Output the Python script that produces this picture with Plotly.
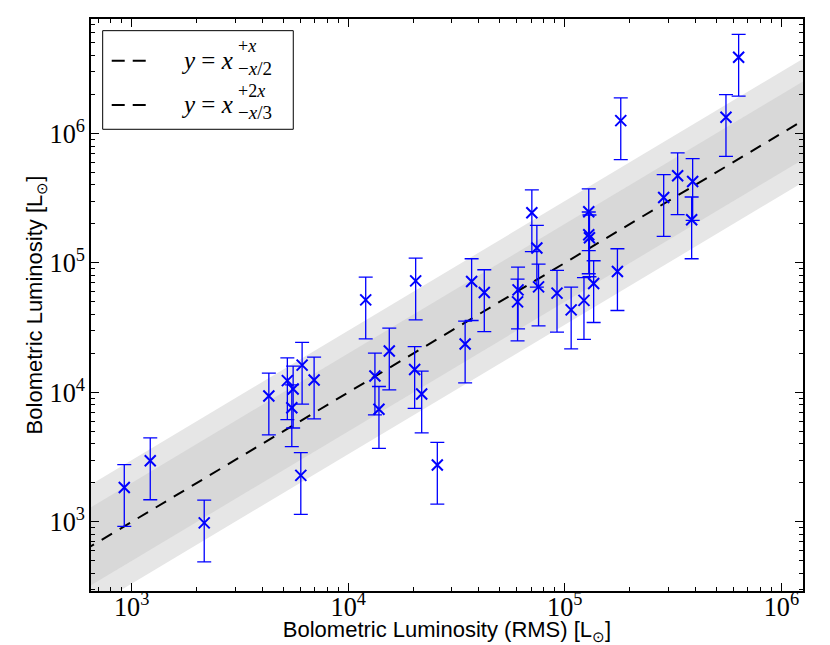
import plotly.graph_objects as go

# RMS bolometric luminosity (x) vs bolometric luminosity (y), in L_sun
lum_rms = [924, 1218, 2162, 4298, 5233, 5565, 5487, 6122, 6955, 6038,
           12040, 13280, 13860, 15470, 20260, 20480, 21830, 25780, 34650, 37130,
           42480, 60830, 60510, 70440, 74300, 75650, 92050, 107000, 122600, 129000,
           129000, 130000, 135900, 175000, 181300, 286200, 332000, 389400, 385300, 555000,
           635000]
lum_bol = [1845, 2964, 982, 9380, 12320, 10620, 7620, 16230, 12470, 2285,
           51840, 13390, 7400, 20900, 15040, 72700, 9720, 2745, 23670, 71800,
           59030, 61940, 50030, 244100, 130200, 65350, 58400, 43380, 51380, 248500,
           164900, 156400, 69300, 85800, 1256000, 320500, 471700, 426100, 215400, 1332000,
           3879000]

# x values for the one-to-one line and the shaded bands
line_x = [600, 1400000]

SERIF = "Liberation Serif"
SANS = "Liberation Sans"
BLUE = "#0000ff"

fig = go.Figure()

# shaded bands: x/3 .. 3x (light) and x/2 .. 2x (darker)
fig.add_trace(go.Scatter(x=line_x, y=[v / 3 for v in line_x], mode="lines",
                         line=dict(width=0), showlegend=False, hoverinfo="skip"))
fig.add_trace(go.Scatter(x=line_x, y=[v * 3 for v in line_x], mode="lines",
                         line=dict(width=0), fill="tonexty", fillcolor="#e6e6e6",
                         showlegend=False, hoverinfo="skip"))
fig.add_trace(go.Scatter(x=line_x, y=[v / 2 for v in line_x], mode="lines",
                         line=dict(width=0), showlegend=False, hoverinfo="skip"))
fig.add_trace(go.Scatter(x=line_x, y=[v * 2 for v in line_x], mode="lines",
                         line=dict(width=0), fill="tonexty", fillcolor="#d8d8d8",
                         showlegend=False, hoverinfo="skip"))

# y = x
fig.add_trace(go.Scatter(x=line_x, y=line_x, mode="lines",
                         line=dict(color="black", width=2, dash="12px,9px"),
                         showlegend=False))

# data with +-50% error bars
fig.add_trace(go.Scatter(
    x=lum_rms, y=lum_bol, mode="markers",
    marker=dict(symbol="x-thin", size=11, line=dict(color=BLUE, width=2), color=BLUE),
    error_y=dict(type="percent", value=50, color=BLUE, thickness=1.3, width=7),
    showlegend=False,
))

axis_style = dict(
    type="log", dtick=1, exponentformat="power", showgrid=False, zeroline=False,
    showline=True, linecolor="black", linewidth=1.5, mirror="allticks",
    ticks="inside", ticklen=8, tickwidth=1.2, tickcolor="black", automargin=False,
    minor=dict(ticks="inside", ticklen=4, tickwidth=1, tickcolor="black", showgrid=False),
    tickfont=dict(family=SERIF, size=21, color="black"),
)

fig.update_xaxes(**axis_style, range=[2.812, 6.10], ticklabelstandoff=-7,
                 title=dict(text="Bolometric Luminosity (RMS) [L<sub>⊙</sub>]",
                            font=dict(family=SANS, size=22, color="black"), standoff=0))
fig.update_yaxes(**axis_style, range=[2.466, 6.884],
                 title=dict(text="Bolometric Luminosity [L<sub>⊙</sub>]",
                            font=dict(family=SANS, size=22, color="black"), standoff=0))

# hand-drawn legend box (stacked super/subscripts are not possible in the legend)
fig.add_shape(type="rect", xref="paper", yref="paper", x0=0.0164, x1=0.2841,
              y0=0.8072, y1=0.9796, line=dict(color="black", width=1),
              fillcolor="white", layer="above")
for ly in [0.9271, 0.8497]:
    fig.add_shape(type="line", xref="paper", yref="paper", x0=0.0291, x1=0.0852,
                  y0=ly, y1=ly, line=dict(color="black", width=2, dash="13px,8px"),
                  layer="above")

legend_rows = [(0.9271, "+<i>x</i>", "−<i>x</i>/2"), (0.8497, "+2<i>x</i>", "−<i>x</i>/3")]
for ly, sup, sub in legend_rows:
    fig.add_annotation(xref="paper", yref="paper", x=0.123, y=ly, xanchor="left",
                       yanchor="middle", showarrow=False,
                       text="<i>y</i> = <i>x</i>", font=dict(family=SERIF, size=25, color="black"))
    fig.add_annotation(xref="paper", yref="paper", x=0.204, y=ly + 0.025, xanchor="left",
                       yanchor="middle", showarrow=False,
                       text=sup, font=dict(family=SERIF, size=18, color="black"))
    fig.add_annotation(xref="paper", yref="paper", x=0.204, y=ly - 0.014, xanchor="left",
                       yanchor="middle", showarrow=False,
                       text=sub, font=dict(family=SERIF, size=19, color="black"))

# the page body adds an 8px offset, so the figure is 8px smaller than the window
fig.update_layout(
    width=822, height=637,
    margin=dict(l=83, r=27, t=11, b=54),
    plot_bgcolor="white", paper_bgcolor="white",
    showlegend=False,
)

fig.write_html("out.html")
